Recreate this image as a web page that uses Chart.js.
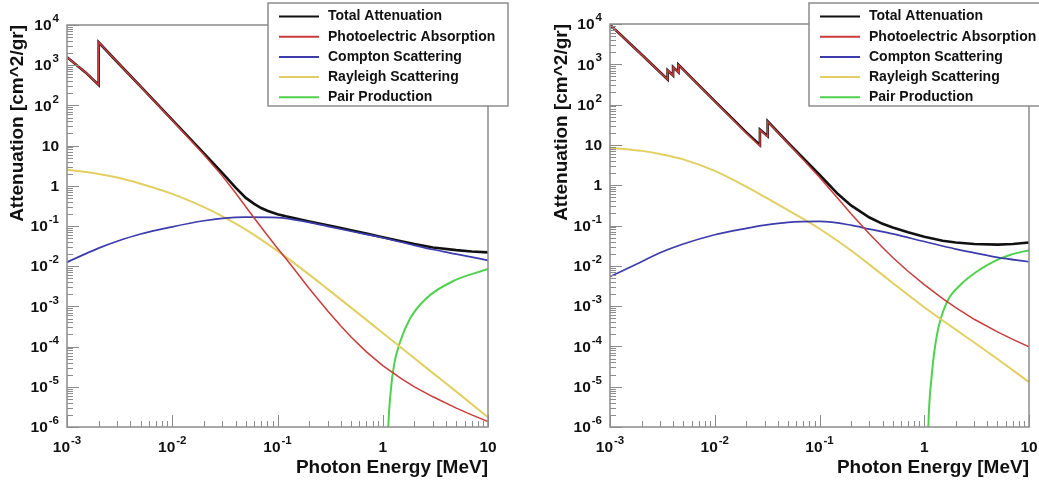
<!DOCTYPE html>
<html>
<head>
<meta charset="utf-8">
<title>Attenuation</title>
<script src="https://cdn.jsdelivr.net/npm/chart.js@4"></script>
<style>
  html, body { margin: 0; padding: 0; background: #fff; }
  #wrap { position: relative; width: 1039px; height: 484px; overflow: hidden; }
  .panel { position: absolute; top: 0; height: 484px; }
  #left { left: 0; width: 519px; }
  #right { left: 519px; width: 520px; }
</style>
</head>
<body>
<div id="wrap">
  <div class="panel" id="left"><canvas id="chartLeft"></canvas></div>
  <div class="panel" id="right"><canvas id="chartRight"></canvas></div>
</div>
<script>
const seriesNames = ['Total Attenuation', 'Photoelectric Absorption', 'Compton Scattering', 'Rayleigh Scattering', 'Pair Production'];

// left panel (MeV / cm^2/gr)
const leftEdgeEnergy = [0.001, 0.0015, 0.002, 0.002, 0.003, 0.005, 0.01, 0.02, 0.03, 0.04, 0.05, 0.06, 0.07, 0.08, 0.1, 0.12, 0.15, 0.2, 0.3, 0.4, 0.5, 0.7, 1, 1.5, 2, 3, 5, 7, 10];
const leftTotal = [1585, 661, 324, 3715, 1202, 296, 43.5, 6.4, 2.07, 0.90, 0.50, 0.355, 0.28, 0.24, 0.197, 0.174, 0.153, 0.130, 0.104, 0.089, 0.0785, 0.0646, 0.0525, 0.0417, 0.0355, 0.0292, 0.0251, 0.0233, 0.0221];
const leftPhoto = [1585, 661, 324, 3715, 1200, 295, 42.7, 5.9, 1.74, 0.66, 0.30, 0.158, 0.093, 0.059, 0.028, 0.0155, 0.0074, 0.0028, 7.7e-4, 3.25e-4, 1.74e-4, 7.38e-5, 3.37e-5, 1.59e-5, 1.0e-5, 5.64e-6, 2.94e-6, 2.0e-6, 1.37e-6];
const leftEnergy = [0.001, 0.002, 0.003, 0.005, 0.01, 0.02, 0.03, 0.05, 0.1, 0.2, 0.3, 0.5, 1, 2, 3, 5, 10];
const leftCompton = [0.0126, 0.0282, 0.0417, 0.0631, 0.0955, 0.135, 0.155, 0.166, 0.162, 0.123, 0.098, 0.074, 0.051, 0.033, 0.026, 0.020, 0.014];
const leftRayleigh = [2.51, 1.97, 1.61, 1.13, 0.631, 0.295, 0.174, 0.0813, 0.024, 0.00617, 0.00269, 9.33e-4, 2.19e-4, 5.13e-5, 2.19e-5, 7.59e-6, 1.74e-6];
const leftPairEnergy = [1.12, 1.13, 1.19, 1.28, 1.46, 1.82, 2.6, 4.7, 10];
const leftPair = [4e-7, 1e-6, 7.6e-6, 3.5e-5, 1.3e-4, 5e-4, 1.6e-3, 4.3e-3, 8.5e-3];

// right panel
const rightEdgeEnergy = [0.001, 0.002, 0.00355, 0.00355, 0.004, 0.004, 0.0045, 0.0045, 0.006, 0.01, 0.015, 0.02, 0.027, 0.027, 0.032, 0.032, 0.05, 0.1, 0.15, 0.2, 0.3, 0.4, 0.5, 0.7, 1, 1.5, 2, 3, 5, 7, 10];
const rightTotal = [9560, 1747, 423, 714, 530, 856, 636, 981, 460, 122, 43, 20.5, 10.0, 24.1, 16.4, 38.6, 11.3, 1.82, 0.603, 0.316, 0.158, 0.110, 0.0891, 0.0676, 0.0525, 0.0417, 0.038, 0.0347, 0.0335, 0.0347, 0.038];
const rightPhoto = [9550, 1740, 417, 708, 525, 851, 631, 977, 457, 120, 41.7, 19.5, 9.3, 23.4, 15.8, 38, 11.0, 1.57, 0.467, 0.197, 0.0619, 0.0284, 0.0161, 0.00731, 0.0034, 0.00154, 9.18e-4, 4.71e-4, 2.3e-4, 1.49e-4, 9.7e-5];
const rightEnergy = [0.001, 0.002, 0.003, 0.005, 0.01, 0.02, 0.03, 0.05, 0.1, 0.2, 0.3, 0.5, 1, 2, 3, 5, 10];
const rightCompton = [0.0054, 0.0126, 0.021, 0.0347, 0.059, 0.085, 0.102, 0.12, 0.126, 0.102, 0.081, 0.062, 0.040, 0.026, 0.021, 0.0162, 0.0126];
const rightRayleigh = [8.51, 7.11, 5.93, 4.37, 2.26, 0.918, 0.511, 0.24, 0.083, 0.024, 0.0107, 0.00375, 9.4e-4, 2.6e-4, 1.25e-4, 4.86e-5, 1.3e-5];
const rightPairEnergy = [1.08, 1.094, 1.18, 1.32, 1.64, 2.2, 3.16, 4.9, 6.6, 10];
const rightPair = [2e-7, 1e-6, 1.95e-5, 1.9e-4, 1.23e-3, 3.3e-3, 7.1e-3, 0.0138, 0.0186, 0.0245];

// axes: [base, exponent]
const xTickValues = [1e-3, 1e-2, 1e-1, 1, 10];
const xTickLabels = [['10', '-3'], ['10', '-2'], ['10', '-1'], ['1', ''], ['10', '']];
const yTickValues = [1e-6, 1e-5, 1e-4, 1e-3, 1e-2, 1e-1, 1, 10, 100, 1000, 10000];
const yTickLabels = [['10', '-6'], ['10', '-5'], ['10', '-4'], ['10', '-3'], ['10', '-2'], ['10', '-1'], ['1', ''], ['10', ''], ['10', '2'], ['10', '3'], ['10', '4']];

const lineColors = ['#111111', '#c83c3c', '#3c3cac', '#e2cf62', '#4ed24e'];
const lineWidths = [2.6, 1.5, 1.7, 2, 2];
const drawOrder = [5, 1, 2, 3, 4];
const FONT = '"Liberation Sans", Arial, Helvetica, sans-serif';

Chart.defaults.font.family = FONT;
Chart.defaults.color = '#111';

// ROOT style inside tick marks + frame
const innerTicks = {
  id: 'innerTicks',
  afterDatasetsDraw(chart) {
    const {ctx, chartArea: a, scales: {x, y}} = chart;
    ctx.save();
    ctx.strokeStyle = '#8c8c8c';
    ctx.lineWidth = 1;
    ctx.beginPath();
    for (let e = -3; e <= 1; e++) {
      for (let m = 1; m <= 9; m++) {
        const v = m * Math.pow(10, e);
        if (v > 10.0001) break;
        const px = Math.round(x.getPixelForValue(v)) + 0.5;
        const len = m === 1 ? 12 : 6;
        ctx.moveTo(px, a.bottom);
        ctx.lineTo(px, a.bottom - len);
      }
    }
    for (let e = -6; e <= 4; e++) {
      for (let m = 1; m <= 9; m++) {
        const v = m * Math.pow(10, e);
        if (v > 10001) break;
        const py = Math.round(y.getPixelForValue(v)) + 0.5;
        const len = m === 1 ? 12 : 6;
        ctx.moveTo(a.left, py);
        ctx.lineTo(a.left + len, py);
      }
    }
    ctx.stroke();
    ctx.lineWidth = 1.5;
    ctx.strokeRect(a.left, a.top, a.right - a.left, a.bottom - a.top);
    ctx.restore();
  }
};

// 10^n labels with a raised exponent
const powerLabels = {
  id: 'powerLabels',
  afterDraw(chart) {
    const {ctx, chartArea: a, scales: {x, y}} = chart;
    const baseFont = 'bold 15.5px ' + FONT;
    const expFont = 'bold 11.5px ' + FONT;
    ctx.save();
    ctx.fillStyle = '#111';
    ctx.textBaseline = 'middle';
    ctx.textAlign = 'left';
    const measure = ([b, e]) => {
      ctx.font = baseFont; const wb = ctx.measureText(b).width;
      ctx.font = expFont; const we = e ? ctx.measureText(e).width + 1 : 0;
      return [wb, we];
    };
    const put = ([b, e], x0, yc, wb) => {
      ctx.font = baseFont; ctx.fillText(b, x0, yc);
      if (e) { ctx.font = expFont; ctx.fillText(e, x0 + wb + 1, yc - 7); }
    };
    xTickValues.forEach((v, i) => {
      const lab = xTickLabels[i];
      const [wb, we] = measure(lab);
      put(lab, x.getPixelForValue(v) - (wb + we) / 2, a.bottom + 21, wb);
    });
    yTickValues.forEach((v, i) => {
      const lab = yTickLabels[i];
      const [wb, we] = measure(lab);
      put(lab, a.left - 8 - (wb + we), y.getPixelForValue(v) + 1, wb);
    });
    ctx.restore();
  }
};

// boxed legend in the top right corner
const boxLegend = {
  id: 'boxLegend',
  afterDraw(chart) {
    const {ctx, chartArea: a} = chart;
    const left = a.right - 220, top = 3, w = 240, h = 103;
    ctx.save();
    ctx.fillStyle = '#fff';
    ctx.fillRect(left, top, w, h);
    ctx.strokeStyle = '#8c8c8c';
    ctx.lineWidth = 1.5;
    ctx.strokeRect(left, top, w, h);
    ctx.font = 'bold 14px ' + FONT;
    ctx.textBaseline = 'middle';
    chart.data.datasets.forEach((ds, i) => {
      const yy = top + 13.5 + i * 20.2;
      ctx.strokeStyle = ds.borderColor;
      ctx.lineWidth = 2;
      ctx.beginPath();
      ctx.moveTo(left + 11, yy);
      ctx.lineTo(left + 51, yy);
      ctx.stroke();
      ctx.fillStyle = '#111';
      ctx.fillText(ds.label, left + 60, yy);
    });
    ctx.restore();
  }
};

function makeChart(id, series, pad, yWidth) {
  const datasets = series.map(([xs, ys], i) => ({
    label: seriesNames[i],
    data: xs.map((x, j) => ({x: x, y: ys[j]})),
    borderColor: lineColors[i],
    backgroundColor: lineColors[i],
    borderWidth: lineWidths[i],
    pointRadius: 0,
    tension: 0,
    cubicInterpolationMode: i >= 2 ? 'monotone' : 'default',
    order: drawOrder[i]
  }));

  return new Chart(document.getElementById(id), {
    type: 'line',
    data: { datasets: datasets },
    options: {
      responsive: true,
      maintainAspectRatio: false,
      animation: false,
      devicePixelRatio: 1,
      layout: { padding: pad },
      plugins: { legend: { display: false }, tooltip: { enabled: false } },
      scales: {
        x: {
          type: 'logarithmic',
          min: 1e-3,
          max: 10,
          grid: { display: false },
          border: { display: false },
          ticks: { display: false },
          title: {
            display: true, text: 'Photon Energy [MeV]', align: 'end',
            font: { size: 19, weight: 'bold' }, padding: { top: 0, bottom: 5 }
          },
          afterFit: s => {
            s.height = 57;
            s.paddingLeft = s.paddingRight = s.paddingTop = s.paddingBottom = 0;
          }
        },
        y: {
          type: 'logarithmic',
          min: 1e-6,
          max: 1e4,
          grid: { display: false },
          border: { display: false },
          ticks: { display: false },
          title: {
            display: true, text: 'Attenuation [cm^2/gr]', align: 'end',
            font: { size: 19, weight: 'bold' }, padding: { top: 6, bottom: 0 }
          },
          afterFit: s => {
            s.width = yWidth;
            s.paddingLeft = s.paddingRight = s.paddingTop = s.paddingBottom = 0;
          }
        }
      }
    },
    plugins: [innerTicks, powerLabels, boxLegend]
  });
}

makeChart('chartLeft', [
  [leftEdgeEnergy, leftTotal],
  [leftEdgeEnergy, leftPhoto],
  [leftEnergy, leftCompton],
  [leftEnergy, leftRayleigh],
  [leftPairEnergy, leftPair]
], { left: 0, right: 31, top: 25, bottom: 0 }, 67);

makeChart('chartRight', [
  [rightEdgeEnergy, rightTotal],
  [rightEdgeEnergy, rightPhoto],
  [rightEnergy, rightCompton],
  [rightEnergy, rightRayleigh],
  [rightPairEnergy, rightPair]
], { left: 25, right: 10, top: 24, bottom: 0 }, 66);
</script>
</body>
</html>
